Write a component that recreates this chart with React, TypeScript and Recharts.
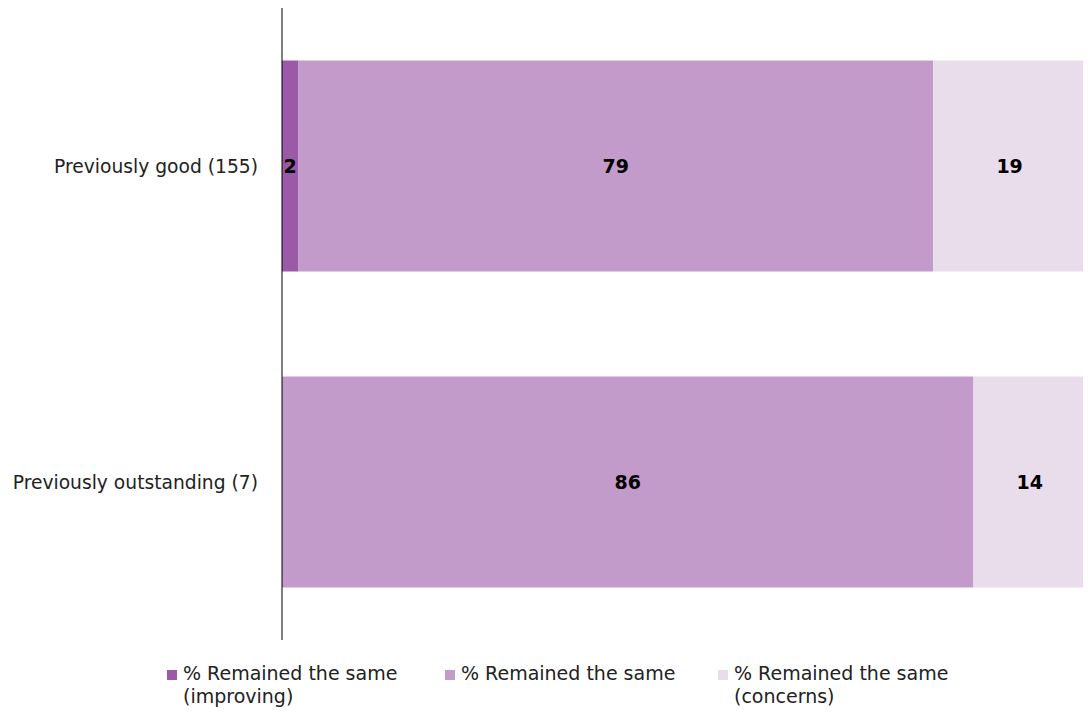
import React from "react";
import { BarChart, Bar, XAxis, YAxis, Legend, LabelList } from "recharts";

const categories = ["Previously good (155)", "Previously outstanding (7)"];
const improving = [2, 0];
const same = [79, 86];
const concerns = [19, 14];
const seriesNames = [
  ["% Remained the same", "(improving)"],
  ["% Remained the same", ""],
  ["% Remained the same", "(concerns)"],
];
const colors = ["#9B59A8", "#C39BCA", "#E9DDEC"];

const data = categories.map((c, i) => ({
  name: c,
  improving: improving[i],
  same: same[i],
  concerns: concerns[i],
}));

const FONT = "'DejaVu Sans', Verdana, sans-serif";

const renderLabel = (props: any) => {
  const { x, y, width, height, value } = props;
  if (!value) return null;
  return (
    <text
      x={x + width / 2}
      y={y + height / 2}
      textAnchor="middle"
      dominantBaseline="central"
      fontFamily={FONT}
      fontWeight="bold"
      fontSize={19}
      fill="#000"
    >
      {value}
    </text>
  );
};

const LegendContent = () => (
  <div style={{ position: "relative", height: 50, fontFamily: FONT, fontSize: 19, color: "#222" }}>
    {seriesNames.map((n, i) => (
      <div
        key={i}
        style={{ position: "absolute", left: [167, 445, 718][i], top: 0, display: "flex", alignItems: "flex-start" }}
      >
        <div style={{ width: 10, height: 10, background: colors[i], marginTop: 8, marginRight: 6 }} />
        <div style={{ lineHeight: "23px" }}>
          <div>{n[0]}</div>
          {n[1] ? <div>{n[1]}</div> : null}
        </div>
      </div>
    ))}
  </div>
);

export default function App() {
  return (
    <div style={{ margin: -8, background: "#fff", width: 1091, height: 715 }}>
      <BarChart
        width={1091}
        height={715}
        data={data}
        layout="vertical"
        margin={{ top: 8, right: 5, bottom: 25, left: 0 }}
        barCategoryGap="16.6%"
      >
        <XAxis type="number" domain={[0, 100]} hide />
        <YAxis
          type="category"
          dataKey="name"
          width={282}
          axisLine={{ stroke: "#000", strokeWidth: 1 }}
          tickLine={false}
          tickSize={0}
          tickMargin={24}
          tick={{ fill: "#222", fontSize: 18.7, fontFamily: FONT }}
        />
        <Legend
          content={<LegendContent />}
          wrapperStyle={{ position: "absolute", left: 0, top: 662, width: 1091 }}
        />
        <Bar dataKey="improving" stackId="a" fill={colors[0]} isAnimationActive={false}>
          <LabelList dataKey="improving" content={renderLabel} />
        </Bar>
        <Bar dataKey="same" stackId="a" fill={colors[1]} isAnimationActive={false}>
          <LabelList dataKey="same" content={renderLabel} />
        </Bar>
        <Bar dataKey="concerns" stackId="a" fill={colors[2]} isAnimationActive={false}>
          <LabelList dataKey="concerns" content={renderLabel} />
        </Bar>
      </BarChart>
    </div>
  );
}
